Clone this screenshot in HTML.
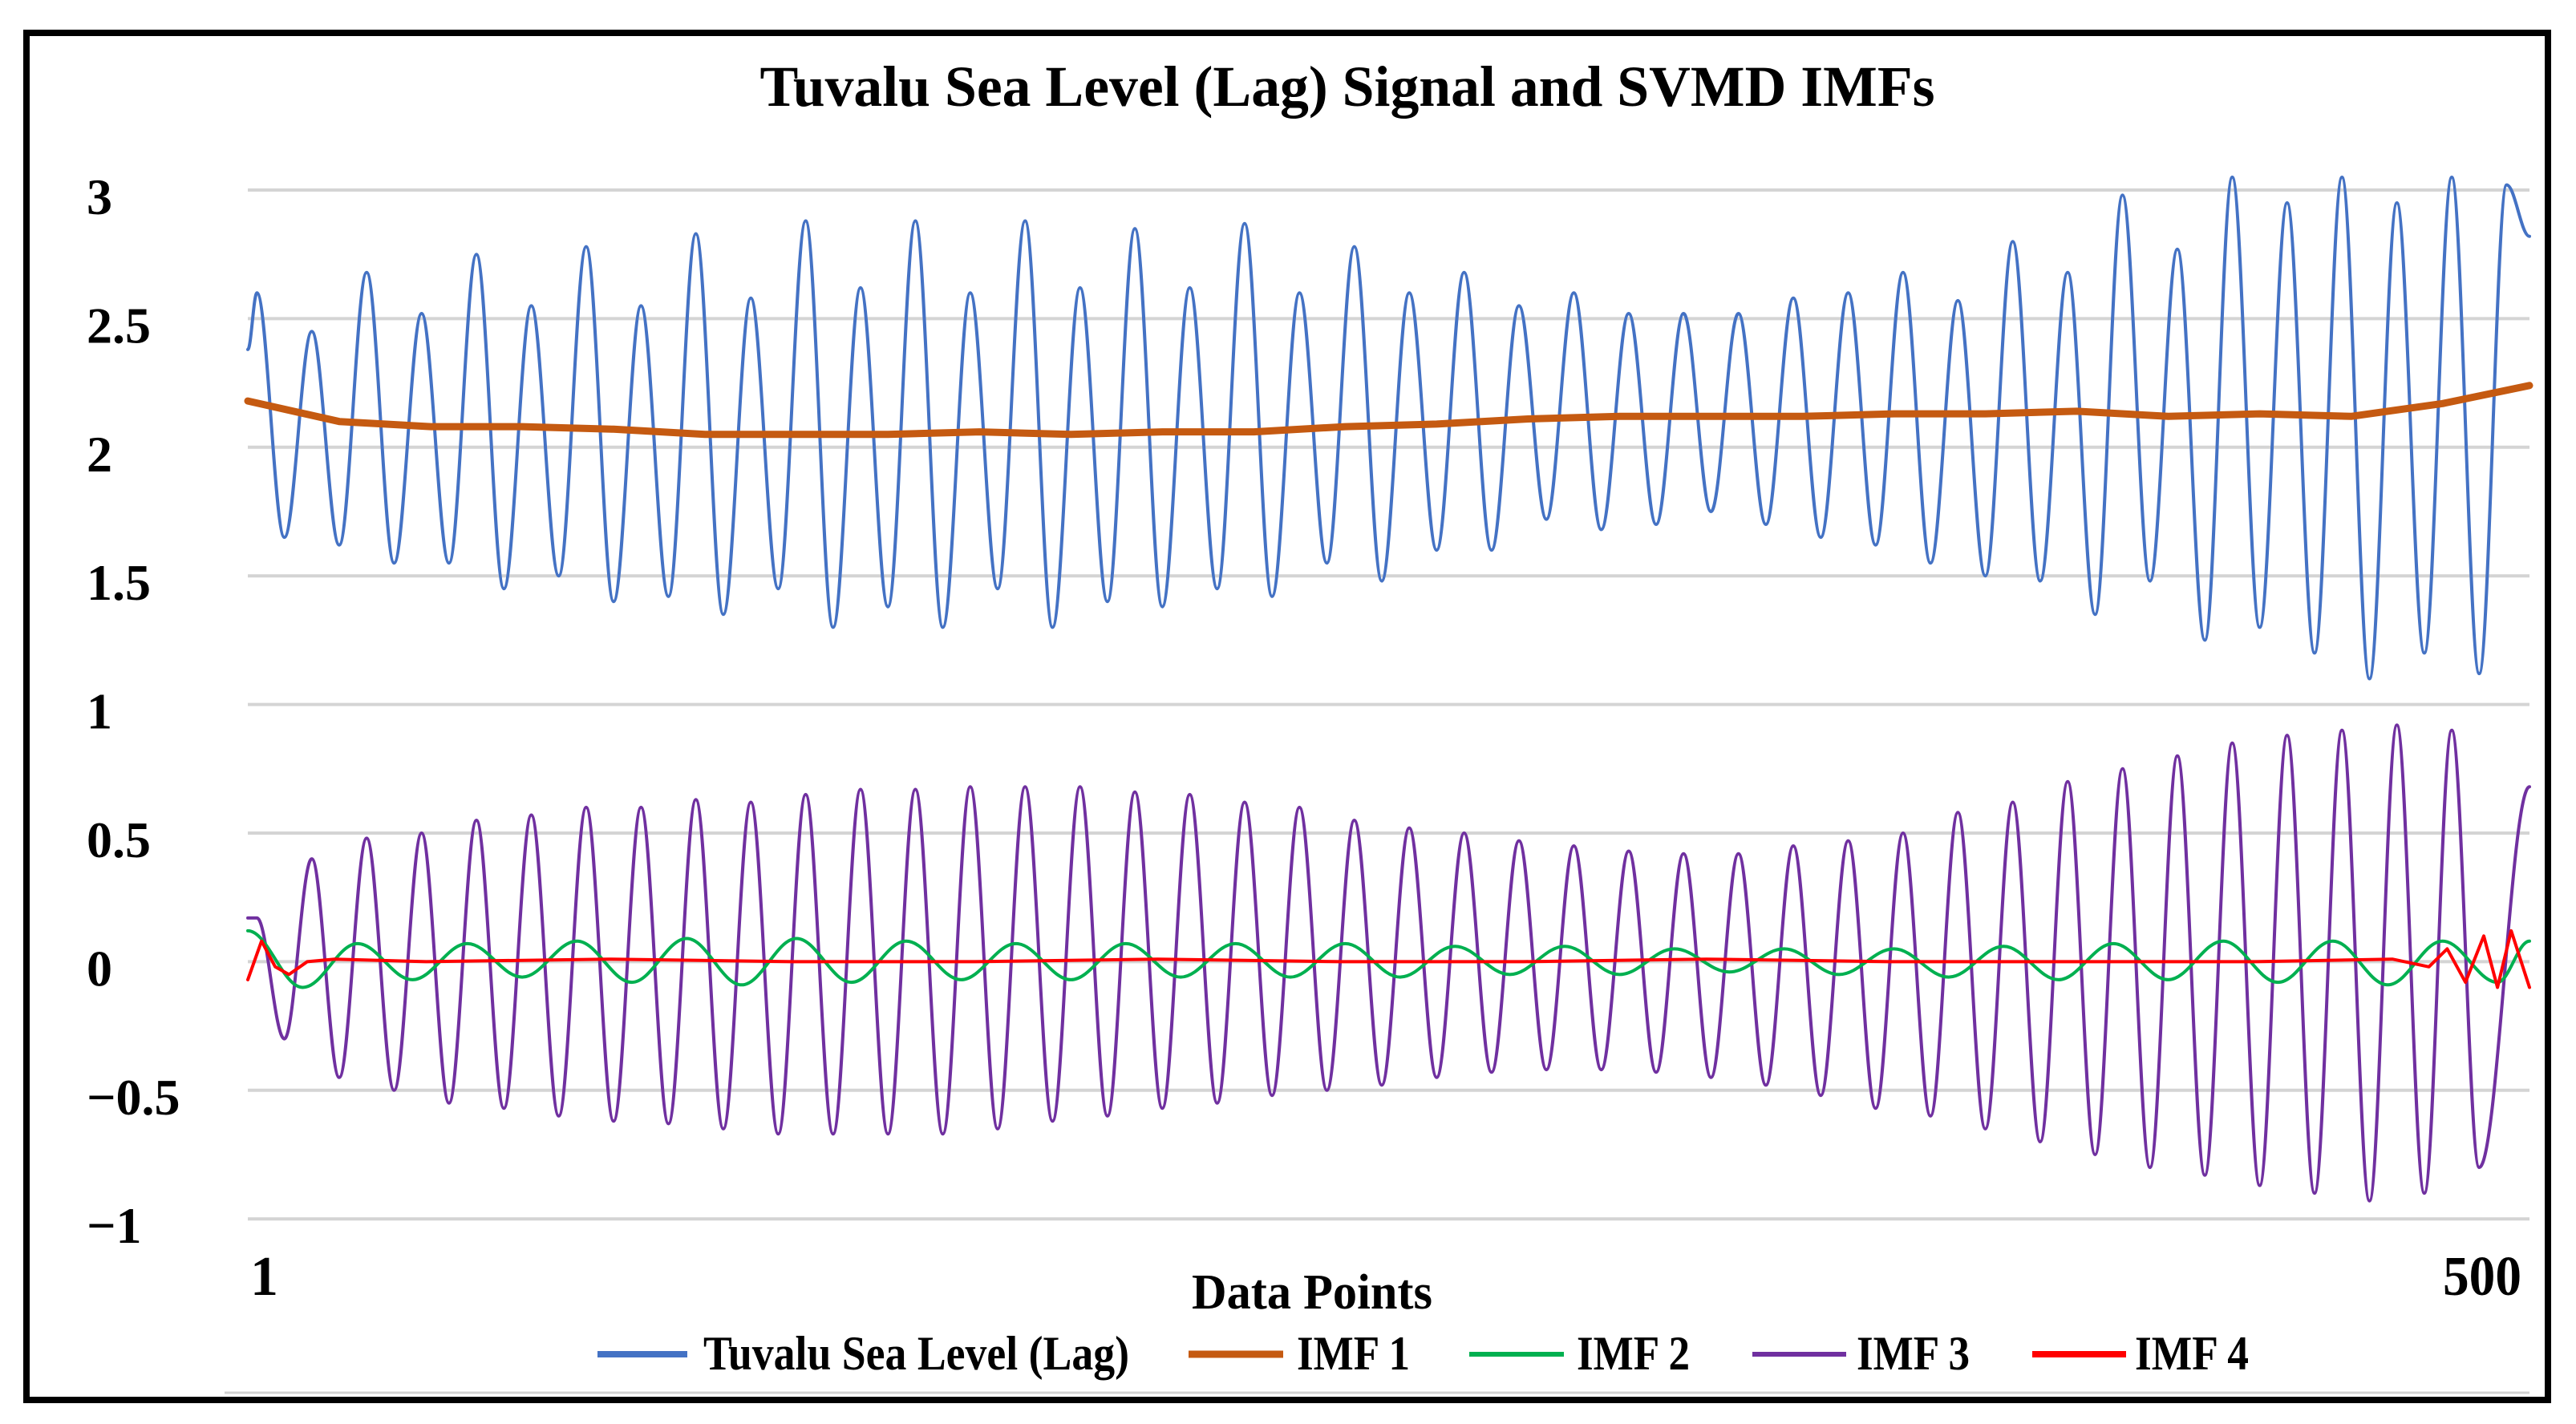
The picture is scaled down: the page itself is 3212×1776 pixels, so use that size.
<!DOCTYPE html>
<html><head><meta charset="utf-8"><style>
html,body{margin:0;padding:0;background:#fff;}
svg{display:block;}
text{font-family:"Liberation Serif",serif;font-weight:bold;fill:#000;}
</style></head><body>
<svg id="chart" width="3212" height="1776" viewBox="0 0 3212 1776">
<rect x="0" y="0" width="3212" height="1776" fill="#fff"/>
<rect x="33" y="41" width="3144" height="1705" fill="none" stroke="#000" stroke-width="8"/>
<text x="1680" y="132" font-size="72" text-anchor="middle" textLength="1465" lengthAdjust="spacingAndGlyphs">Tuvalu Sea Level (Lag) Signal and SVMD IMFs</text>
<g id="grid"></g>
<g id="ylabels"></g>
<g id="series"></g>
<text x="312" y="1615" font-size="70">1</text>
<text x="3144" y="1615" font-size="70" text-anchor="end" textLength="98" lengthAdjust="spacingAndGlyphs">500</text>
<text x="1636" y="1632" font-size="62" text-anchor="middle" textLength="300" lengthAdjust="spacingAndGlyphs">Data Points</text>
<line x1="280" y1="1737" x2="3154" y2="1737" stroke="#d0d0d0" stroke-width="3"/>
<g>
 <g>
  <line x1="745" y1="1689" x2="857" y2="1689" stroke="#4472C4" stroke-width="8"/>
  <text x="877" y="1708" font-size="60" textLength="531" lengthAdjust="spacingAndGlyphs">Tuvalu Sea Level (Lag)</text>
 </g>
 <g>
  <line x1="1482" y1="1689" x2="1600" y2="1689" stroke="#C55A11" stroke-width="9"/>
  <text x="1617" y="1708" font-size="60" textLength="141" lengthAdjust="spacingAndGlyphs">IMF 1</text>
 </g>
 <g>
  <line x1="1832" y1="1689" x2="1950" y2="1689" stroke="#00B050" stroke-width="6"/>
  <text x="1966" y="1708" font-size="60" textLength="141" lengthAdjust="spacingAndGlyphs">IMF 2</text>
 </g>
 <g>
  <line x1="2185" y1="1689" x2="2302" y2="1689" stroke="#7030A0" stroke-width="6"/>
  <text x="2315" y="1708" font-size="60" textLength="141" lengthAdjust="spacingAndGlyphs">IMF 3</text>
 </g>
 <g>
  <line x1="2534" y1="1689" x2="2651" y2="1689" stroke="#FF0000" stroke-width="8"/>
  <text x="2662" y="1708" font-size="60" textLength="142" lengthAdjust="spacingAndGlyphs">IMF 4</text>
 </g>
</g>
</svg>
<script>
// ---- data ----
const yTicks = [3, 2.5, 2, 1.5, 1, 0.5, 0, -0.5, -1];
const yTickLabels = ["3", "2.5", "2", "1.5", "1", "0.5", "0", "\u22120.5", "\u22121"];
// Tuvalu sea level: start value, alternating peak/trough extremes, end value
const seaStart = 2.38;
const seaPeaks = [2.6,2.45,2.68,2.52,2.75,2.55,2.78,2.55,2.83,2.58,2.88,2.62,2.88,2.6,2.88,2.62,2.85,2.62,2.87,2.6,2.78,2.6,2.68,2.55,2.6,2.52,2.52,2.52,2.58,2.6,2.68,2.57,2.8,2.68,2.98,2.77,3.05,2.95,3.05,2.95,3.05,3.02];
const seaTroughs = [1.65,1.62,1.55,1.55,1.45,1.5,1.4,1.42,1.35,1.45,1.3,1.38,1.3,1.45,1.3,1.4,1.38,1.45,1.42,1.55,1.48,1.6,1.6,1.72,1.68,1.7,1.75,1.7,1.65,1.62,1.55,1.5,1.48,1.35,1.48,1.25,1.3,1.2,1.1,1.2,1.12];
const seaEnd = 2.82;
// IMF1 trend sampled every 20 points
const imf1 = [2.18,2.10,2.08,2.08,2.07,2.05,2.05,2.05,2.06,2.05,2.06,2.06,2.08,2.09,2.11,2.12,2.12,2.12,2.13,2.13,2.14,2.12,2.13,2.12,2.17,2.24];
// IMF2 extremes
const imf2Start = 0.12;
const imf2Ext = [-0.1,0.07,-0.07,0.07,-0.06,0.08,-0.08,0.09,-0.09,0.09,-0.08,0.08,-0.07,0.07,-0.07,0.07,-0.06,0.07,-0.06,0.07,-0.06,0.06,-0.05,0.06,-0.05,0.05,-0.04,0.05,-0.05,0.05,-0.06,0.06,-0.07,0.07,-0.07,0.08,-0.08,0.08,-0.09,0.08,-0.08];
const imf2End = 0.08;
// IMF3 extremes
const imf3Start = 0.17;
const imf3Peaks = [0.17,0.4,0.48,0.5,0.55,0.57,0.6,0.6,0.63,0.62,0.65,0.67,0.67,0.68,0.68,0.68,0.66,0.65,0.62,0.6,0.55,0.52,0.5,0.47,0.45,0.43,0.42,0.42,0.45,0.47,0.5,0.58,0.62,0.7,0.75,0.8,0.85,0.88,0.9,0.92,0.9];
const imf3Troughs = [-0.3,-0.45,-0.5,-0.55,-0.57,-0.6,-0.62,-0.63,-0.65,-0.67,-0.67,-0.67,-0.67,-0.65,-0.62,-0.6,-0.57,-0.55,-0.52,-0.5,-0.48,-0.45,-0.43,-0.42,-0.42,-0.43,-0.45,-0.48,-0.52,-0.57,-0.6,-0.65,-0.7,-0.75,-0.8,-0.83,-0.87,-0.9,-0.93,-0.9,-0.8];
const imf3End = 0.68;
// IMF4 (point index, value)
const imf4X = [1,4,7,10,14,20,40,80,120,160,200,240,280,320,360,400,440,470,478,482,486,490,493,496,500];
const imf4Y = [-0.07,0.08,-0.02,-0.05,0.0,0.01,0.0,0.01,0.0,0.0,0.01,0.0,0.0,0.01,0.0,0.0,0.0,0.01,-0.02,0.05,-0.08,0.1,-0.1,0.12,-0.1];

// ---- axes ----
const X0 = 309, X1 = 3154, Y3 = 237, PX_PER_UNIT = 320.8;
function xs(i){ return X0 + (i - 1) / 499 * (X1 - X0); }
function ys(v){ return Y3 + (3 - v) * PX_PER_UNIT; }
const NS = "http://www.w3.org/2000/svg";

const grid = document.getElementById('grid');
const ylab = document.getElementById('ylabels');
yTicks.forEach((t, k) => {
  const ln = document.createElementNS(NS, 'line');
  ln.setAttribute('x1', X0); ln.setAttribute('x2', X1);
  ln.setAttribute('y1', ys(t)); ln.setAttribute('y2', ys(t));
  ln.setAttribute('stroke', '#d4d4d4'); ln.setAttribute('stroke-width', '4');
  
  
  grid.appendChild(ln);
  const tx = document.createElementNS(NS, 'text');
  tx.setAttribute('x', 108); tx.setAttribute('y', ys(t) + 30);
  tx.setAttribute('font-size', '64');
  tx.textContent = yTickLabels[k];
  
  
  ylab.appendChild(tx);
});

function alternate(peaks, troughs){
  const out = [];
  for (let k = 0; k < Math.max(peaks.length, troughs.length); k++){
    if (k < peaks.length) out.push(peaks[k]);
    if (k < troughs.length) out.push(troughs[k]);
  }
  return out;
}
function extremes(startV, ext, endV, first, step){
  const pts = [[1, startV]];
  ext.forEach((v, k) => pts.push([first + k * step, v]));
  pts.push([500, endV]);
  return pts;
}
function smoothPath(pts){
  let d = 'M' + xs(pts[0][0]).toFixed(1) + ',' + ys(pts[0][1]).toFixed(1);
  for (let k = 1; k < pts.length; k++){
    const xa = xs(pts[k-1][0]), ya = ys(pts[k-1][1]);
    const xb = xs(pts[k][0]), yb = ys(pts[k][1]);
    const dx = (xb - xa) * 0.3642;
    d += ' C' + (xa+dx).toFixed(1) + ',' + ya.toFixed(1) + ' ' + (xb-dx).toFixed(1) + ',' + yb.toFixed(1) + ' ' + xb.toFixed(1) + ',' + yb.toFixed(1);
  }
  return d;
}
function linePath(xsArr, ysArr){
  return xsArr.map((x, k) => (k ? 'L' : 'M') + xs(x).toFixed(1) + ',' + ys(ysArr[k]).toFixed(1)).join(' ');
}
const seriesG = document.getElementById('series');
function addPath(d, color, w, name){
  const p = document.createElementNS(NS, 'path');
  p.setAttribute('d', d); p.setAttribute('fill', 'none');
  p.setAttribute('stroke', color); p.setAttribute('stroke-width', w);
  p.setAttribute('stroke-linejoin', 'round'); p.setAttribute('stroke-linecap', 'round');
  
  
  seriesG.appendChild(p);
}
addPath(smoothPath(extremes(seaStart, alternate(seaPeaks, seaTroughs), seaEnd, 3, 6)), '#4472C4', 4, 'sea-level-line');
addPath(smoothPath(extremes(imf3Start, alternate(imf3Peaks, imf3Troughs), imf3End, 3, 6)), '#7030A0', 4, 'imf3-line');
addPath(smoothPath(extremes(imf2Start, imf2Ext, imf2End, 13, 12)), '#00B050', 4, 'imf2-line');
addPath(linePath(imf4X, imf4Y), '#FF0000', 4, 'imf4-line');
const imf1X = imf1.map((v, k) => Math.min(500, 1 + 20 * k));
addPath(linePath(imf1X, imf1), '#C55A11', 9, 'imf1-line');
</script>
</body></html>
